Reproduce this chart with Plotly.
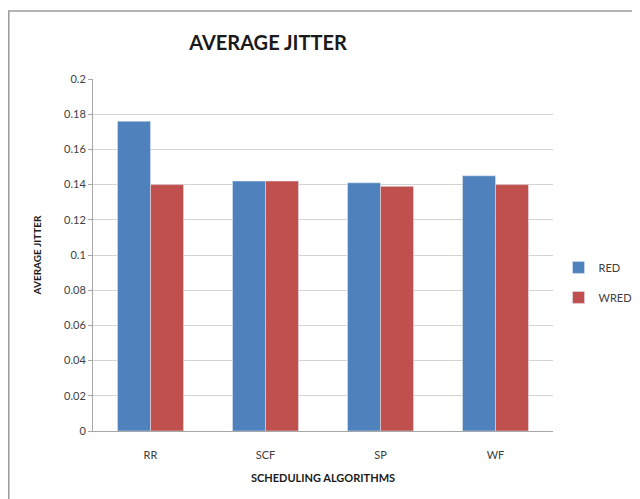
import plotly.graph_objects as go

categories = ["RR", "SCF", "SP", "WF"]
red_values = [0.176, 0.142, 0.141, 0.145]
wred_values = [0.140, 0.142, 0.139, 0.140]
y_ticks = [0, 0.02, 0.04, 0.06, 0.08, 0.1, 0.12, 0.14, 0.16, 0.18, 0.2]
y_tick_labels = ["0", "0.02", "0.04", "0.06", "0.08", "0.1", "0.12", "0.14", "0.16", "0.18", "0.2"]

FONT = "Lato"
W, H = 632, 491  # page body has an 8px margin

fig = go.Figure()
fig.add_trace(go.Bar(name="RED", x=categories, y=red_values, marker_color="#4F81BD",
                     legendgroup="a"))
fig.add_trace(go.Bar(name="WRED", x=categories, y=wred_values, marker_color="#C0504D",
                     legendgroup="b"))

fig.update_layout(
    width=W, height=H,
    margin=dict(l=85, r=87, t=71, b=68, autoexpand=False),
    paper_bgcolor="white", plot_bgcolor="white",
    barmode="group", bargap=0.426, bargroupgap=0,
    font=dict(family=FONT, color="#404040", size=11),
    title=dict(text="<b>AVERAGE JITTER</b>", x=260/W, xanchor="center",
               y=1-35/H, yanchor="middle",
               font=dict(family=FONT, size=20, color="#1a1a1a")),
    legend=dict(x=1.012, y=0.506, xanchor="left", yanchor="top",
                font=dict(family=FONT, size=11, color="#404040"),
                tracegroupgap=11, itemwidth=30, traceorder="grouped"),
    xaxis=dict(showline=True, linecolor="#a6a6a6", linewidth=1, ticks="",
               automargin=False, ticklabelstandoff=14,
               tickfont=dict(family=FONT, size=11, color="#404040"),
               title=dict(text="<b>SCHEDULING ALGORITHMS</b>", standoff=14,
                          font=dict(family=FONT, size=11, color="#1a1a1a"))),
    yaxis=dict(range=[0, 0.2], tickvals=y_ticks, ticktext=y_tick_labels,
               automargin=False,
               showgrid=True, gridcolor="#d4d4d4", gridwidth=1,
               showline=True, linecolor="#a6a6a6", linewidth=1,
               ticks="outside", ticklen=4, tickcolor="#a6a6a6",
               zeroline=False,
               tickfont=dict(family=FONT, size=11, color="#404040"),
               title=dict(text="<b>AVERAGE JITTER</b>", standoff=20,
                          font=dict(family=FONT, size=10, color="#1a1a1a"))),
    shapes=[dict(type="rect", xref="paper", yref="paper",
                 x0=(0.8-85)/460, x1=1.35, y0=-0.3, y1=(423-3)/352,
                 line=dict(color="#9a9a9a", width=1.5), layer="below")],
)

fig.write_html("out.html")
